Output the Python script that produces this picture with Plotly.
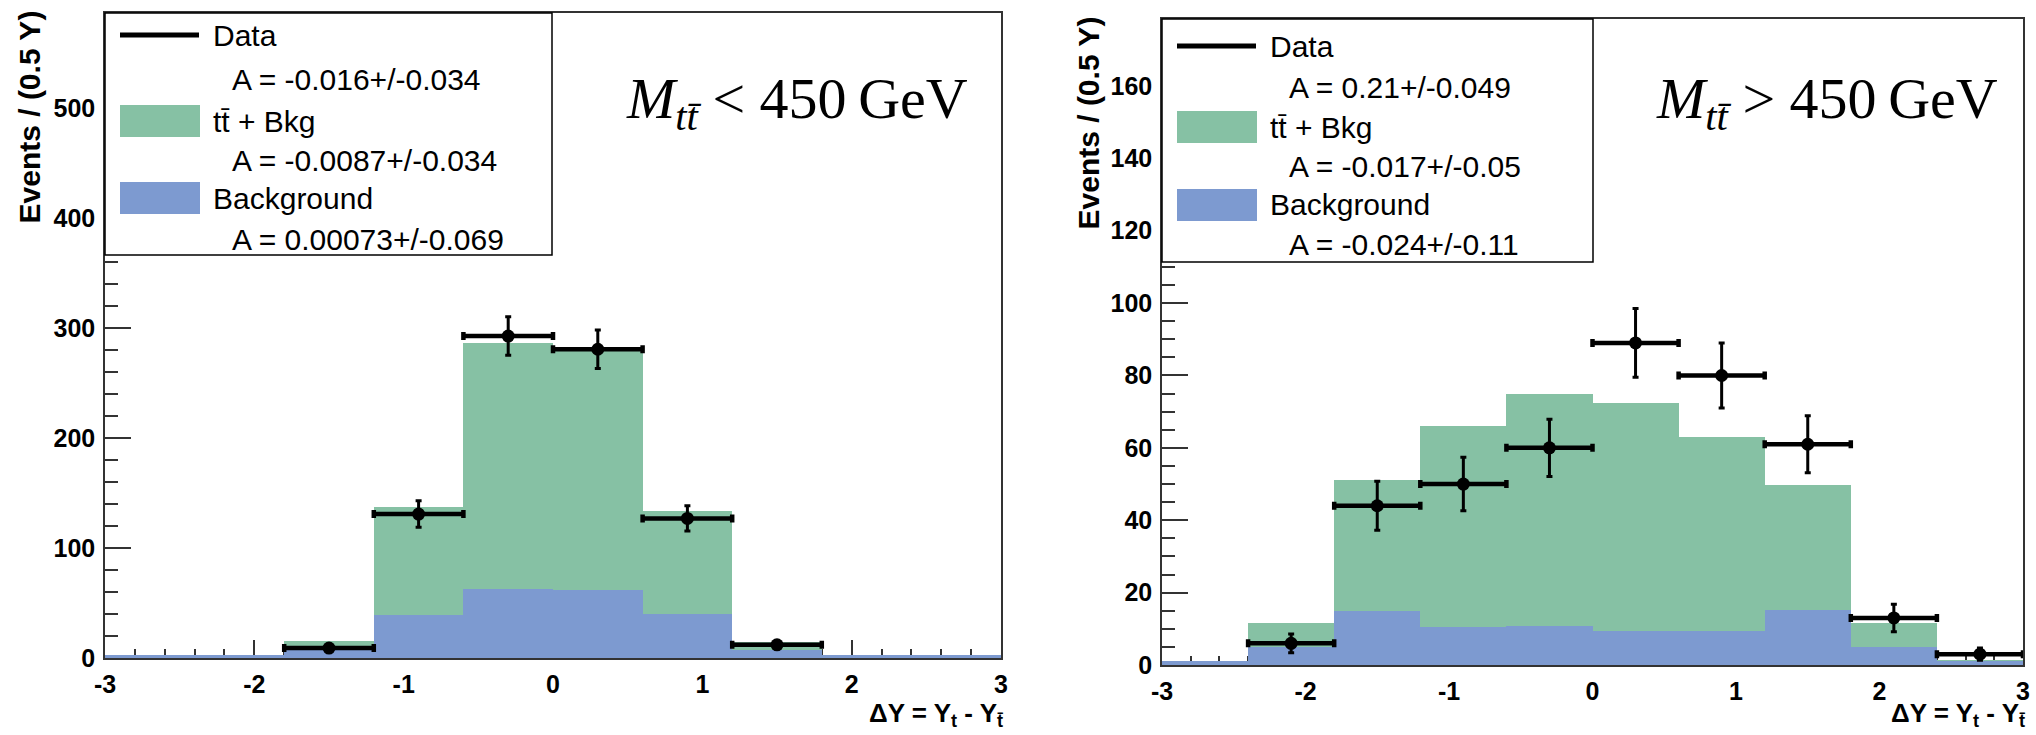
import plotly.graph_objects as go

# Binning of the rapidity difference: 10 bins of 0.6 from -3 to 3
bin_centers = [-2.7, -2.1, -1.5, -0.9, -0.3, 0.3, 0.9, 1.5, 2.1, 2.7]
half_bin = 0.3

# --- M_tt < 450 GeV ---
low_total = [2.5, 2.5, 15.5, 137, 287, 283, 134, 15, 2.5, 2.5]   # tt + Bkg
low_bkg = [2.5, 2.5, 7, 39, 63, 61.5, 40, 7.5, 2.5, 2.5]          # Background
low_data_x = [-1.5, -0.9, -0.3, 0.3, 0.9, 1.5]
low_data = [9, 131, 293, 281, 127, 12]
low_data_err = [3.0, 12.0, 17.5, 17.5, 11.5, 3.5]
low_asym = ["A = -0.016+/-0.034", "A = -0.0087+/-0.034", "A = 0.00073+/-0.069"]

# --- M_tt > 450 GeV ---
high_total = [1.2, 11.5, 51, 66, 75, 72.5, 63, 49.7, 11.5, 1.5]
high_bkg = [1.2, 4.9, 14.8, 10.4, 10.7, 9.3, 9.3, 15.1, 4.9, 1.0]
high_data_x = [-2.1, -1.5, -0.9, -0.3, 0.3, 0.9, 1.5, 2.1, 2.7]
high_data = [6, 44, 50, 60, 89, 80, 61, 13, 3]
high_data_err = [2.6, 6.8, 7.4, 7.9, 9.5, 9.0, 7.9, 3.8, 1.7]
high_asym = ["A = 0.21+/-0.049", "A = -0.017+/-0.05", "A = -0.024+/-0.11"]

legend_names = ["Data", "tt\u0304 + Bkg", "Background"]

x_ticks = [-3, -2, -1, 0, 1, 2, 3]
x_ticklabels = ["-3", "-2", "-1", "0", "1", "2", "3"]
low_y_ticks = [0, 100, 200, 300, 400, 500]
high_y_ticks = [0, 20, 40, 60, 80, 100, 120, 140, 160]

GREEN = "rgb(134,193,164)"
BLUE = "rgb(125,154,208)"
W, H = 2036, 735
SANS = "Liberation Sans, Arial, Helvetica, sans-serif"
SERIF = "Liberation Serif, Times New Roman, serif"


def px(x):
    return x / W


def py(y):
    return 1 - y / H


fig = go.Figure()

panels = [
    dict(xa="x", ya="y", total=low_total, bkg=low_bkg, dx=low_data_x, d=low_data,
         de=low_data_err),
    dict(xa="x2", ya="y2", total=high_total, bkg=high_bkg, dx=high_data_x, d=high_data,
         de=high_data_err),
]

for p in panels:
    fig.add_trace(go.Bar(x=bin_centers, y=p["total"], width=2 * half_bin,
                         marker=dict(color=GREEN, line=dict(width=0)),
                         xaxis=p["xa"], yaxis=p["ya"], showlegend=False))
    fig.add_trace(go.Bar(x=bin_centers, y=p["bkg"], width=2 * half_bin,
                         marker=dict(color=BLUE, line=dict(width=0)),
                         xaxis=p["xa"], yaxis=p["ya"], showlegend=False))
    fig.add_trace(go.Scatter(
        x=p["dx"], y=p["d"], mode="markers",
        marker=dict(size=13, color="black"),
        error_x=dict(type="constant", value=half_bin, color="black", thickness=4.5, width=4),
        error_y=dict(type="data", array=p["de"], color="black", thickness=3, width=3),
        xaxis=p["xa"], yaxis=p["ya"], showlegend=False))

tickfont = dict(family=SANS, size=25, color="black", weight="bold")
common_x = dict(range=[-3, 3], tickvals=x_ticks, ticktext=x_ticklabels, ticks="inside",
                ticklen=18, tickwidth=1.5, tickcolor="#333", showline=True, mirror=True,
                linecolor="#333", linewidth=1.5, showgrid=False, zeroline=False,
                tickfont=tickfont, layer="below traces", ticklabelstandoff=3, automargin=False,
                minor=dict(dtick=0.2, ticks="inside", ticklen=9, tickwidth=1.5, tickcolor="#333"))
common_y = dict(ticks="inside", ticklen=26, tickwidth=1.5, tickcolor="#333", showline=True,
                mirror=True, linecolor="#333", linewidth=1.5, showgrid=False, zeroline=False,
                tickfont=tickfont, layer="below traces", ticklabelstandoff=3, automargin=False)

fig.update_layout(
    template="none",
    width=W, height=H, margin=dict(l=0, r=0, t=0, b=0),
    paper_bgcolor="white", plot_bgcolor="white",
    barmode="overlay", bargap=0, showlegend=False,
    xaxis=dict(domain=[px(105), px(1001)], anchor="y", **common_x),
    yaxis=dict(domain=[py(658), py(13)], anchor="x", range=[0, 587],
               tickvals=low_y_ticks, ticktext=[str(v) for v in low_y_ticks],
               minor=dict(dtick=20, ticks="inside", ticklen=13, tickwidth=1.5, tickcolor="#333"),
               **common_y),
    xaxis2=dict(domain=[px(1162), px(2023)], anchor="y2", **common_x),
    yaxis2=dict(domain=[py(665), py(19)], anchor="x2", range=[0, 178.5],
                tickvals=high_y_ticks, ticktext=[str(v) for v in high_y_ticks],
                minor=dict(dtick=5, ticks="inside", ticklen=13, tickwidth=1.5, tickcolor="#333"),
                **common_y),
)

annotations = []
shapes = []

# Per-panel placement: plot edges, legend box, y-title and mass-region label
panel_geo = [
    dict(left=105, right=1001, top=13, leg_right=552, leg_bottom=255, ytitle_x=29,
         rows=[35, 79, 121, 160, 198, 239],
         label="<i>M</i><sub><i>tt\u0304</i></sub> &lt; 450\u2009GeV", label_x=797,
         asym=low_asym),
    dict(left=1162, right=2023, top=19, leg_right=1593, leg_bottom=262, ytitle_x=1088,
         rows=[46, 88, 127, 166, 205, 245],
         label="<i>M</i><sub><i>tt\u0304</i></sub> &gt; 450\u2009GeV", label_x=1827,
         asym=high_asym),
]

for g in panel_geo:
    L = g["left"]
    rows = g["rows"]
    # legend frame
    shapes.append(dict(type="rect", xref="paper", yref="paper",
                       x0=px(L), x1=px(g["leg_right"]), y0=py(g["leg_bottom"]), y1=py(g["top"]),
                       line=dict(color="black", width=1.5), fillcolor="white", layer="above"))
    # Data entry: thick black line
    shapes.append(dict(type="line", xref="paper", yref="paper",
                       x0=px(L + 15), x1=px(L + 94), y0=py(rows[0]), y1=py(rows[0]),
                       line=dict(color="black", width=5), layer="above"))
    # filled entries
    for r, col in ((rows[2], GREEN), (rows[4], BLUE)):
        shapes.append(dict(type="rect", xref="paper", yref="paper",
                           x0=px(L + 15), x1=px(L + 95), y0=py(r + 16), y1=py(r - 16),
                           line=dict(width=0), fillcolor=col, layer="above"))
    for i, name in enumerate(legend_names):
        annotations.append(dict(text=name, xref="paper", yref="paper", x=px(L + 106),
                                y=py(rows[2 * i]), xanchor="left", yanchor="middle",
                                showarrow=False, font=dict(family=SANS, size=30, color="black")))
        annotations.append(dict(text=g["asym"][i], xref="paper", yref="paper", x=px(L + 125),
                                y=py(rows[2 * i + 1]), xanchor="left", yanchor="middle",
                                showarrow=False, font=dict(family=SANS, size=30, color="black")))
    # y-axis title
    annotations.append(dict(text="Events / (0.5 Y)", xref="paper", yref="paper",
                            x=px(g["ytitle_x"]), y=py(g["top"] - 4), xanchor="center", yanchor="top",
                            textangle=-90, showarrow=False,
                            font=dict(family=SANS, size=30, color="black", weight="bold")))
    # x-axis title
    annotations.append(dict(text="\u0394Y = Y<sub>t</sub> - Y<sub>t\u0304</sub>", xref="paper",
                            yref="paper", x=px(g["right"] + 4), y=py(714),
                            xanchor="right", yanchor="middle", showarrow=False,
                            font=dict(family=SANS, size=26, color="black", weight="bold")))
    # mass-region label
    annotations.append(dict(text=g["label"], xref="paper", yref="paper", x=px(g["label_x"]),
                            y=py(103), xanchor="center", yanchor="middle", showarrow=False,
                            font=dict(family=SERIF, size=58, color="black")))

fig.update_layout(shapes=shapes, annotations=annotations)
fig.write_html("out.html")
